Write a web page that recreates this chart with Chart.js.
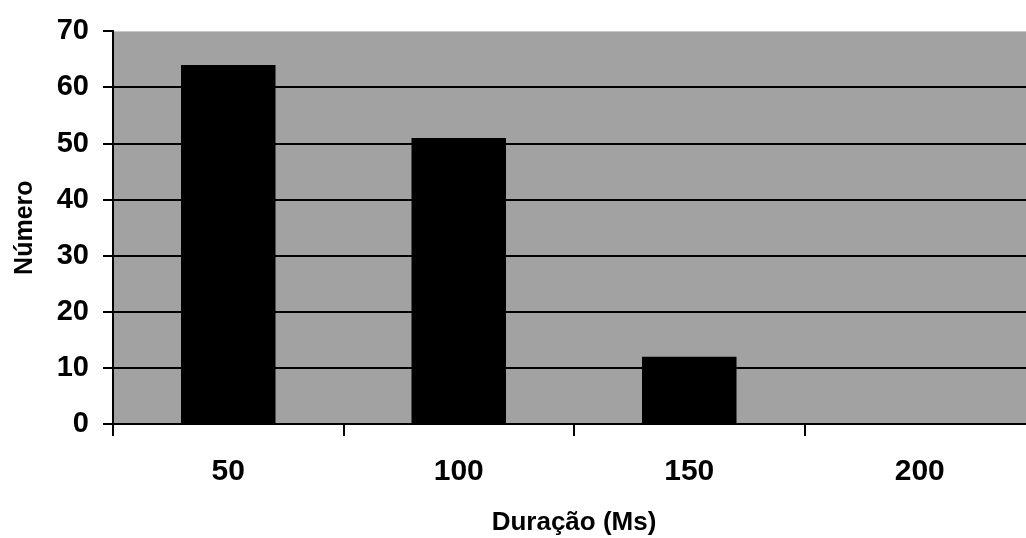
<!DOCTYPE html>
<html>
<head>
<meta charset="utf-8">
<script src="https://cdn.jsdelivr.net/npm/chart.js@4.4.1/dist/chart.umd.min.js"></script>
<style>
  html, body { margin: 0; padding: 0; background: #fff; overflow: hidden; }
  #wrap { width: 1026px; height: 538px; overflow: hidden; position: relative; }
  #box { width: 1036px; height: 538px; position: absolute; left: 0; top: 0; }
</style>
</head>
<body>
<div id="wrap"><div id="box"><canvas id="c"></canvas></div></div>
<script>
const categories = ['50', '100', '150', '200'];
const counts = [64, 51, 12, 0];
const yTicks = [0, 10, 20, 30, 40, 50, 60, 70];
const xTitle = 'Duração (Ms)';
const yTitle = 'Número';

const FONT = '"Liberation Sans", Arial, sans-serif';

const bgPlugin = {
  id: 'plotBg',
  beforeDraw(chart) {
    const a = chart.chartArea, ctx = chart.ctx;
    ctx.save();
    ctx.fillStyle = '#a2a2a2';
    ctx.fillRect(a.left, a.top, a.right - a.left, a.bottom - a.top);
    ctx.restore();
  }
};

new Chart(document.getElementById('c'), {
  type: 'bar',
  data: {
    labels: categories,
    datasets: [{
      data: counts,
      backgroundColor: '#000',
      borderWidth: 0,
      categoryPercentage: 1,
      barPercentage: 0.41
    }]
  },
  plugins: [bgPlugin],
  options: {
    responsive: true,
    maintainAspectRatio: false,
    animation: false,
    layout: { padding: { top: 28, right: 1, left: 0, bottom: 0 } },
    plugins: { legend: { display: false }, tooltip: { enabled: false } },
    scales: {
      x: {
        offset: true,
        grid: {
          offset: true,
          drawOnChartArea: false,
          color: '#000',
          lineWidth: 2,
          tickLength: 12
        },
        border: { color: '#000', width: 2 },
        ticks: {
          color: '#000',
          padding: 18,
          font: { family: FONT, size: 30, weight: 'bold' }
        },
        title: {
          display: true,
          text: xTitle,
          color: '#000',
          padding: { top: 0, bottom: 0 },
          font: { family: FONT, size: 26, weight: 'bold' }
        },
        afterFit(scale) { scale.height = 114; }
      },
      y: {
        min: 0,
        max: 70,
        afterBuildTicks(scale) { scale.ticks = yTicks.map(v => ({ value: v })); },
        grid: {
          color: (c) => (c.tick && c.tick.value === 70) ? 'rgba(0,0,0,0)' : '#000',
          tickColor: '#000',
          lineWidth: 2,
          tickLength: 10
        },
        border: { color: '#000', width: 2 },
        ticks: {
          color: '#000',
          padding: 14,
          font: { family: FONT, size: 29, weight: 'bold' }
        },
        title: {
          display: true,
          text: yTitle,
          color: '#000',
          padding: { top: 10, bottom: 0 },
          font: { family: FONT, size: 25, weight: 'bold' }
        },
        afterFit(scale) { scale.width = 113; }
      }
    }
  }
});
</script>
</body>
</html>
